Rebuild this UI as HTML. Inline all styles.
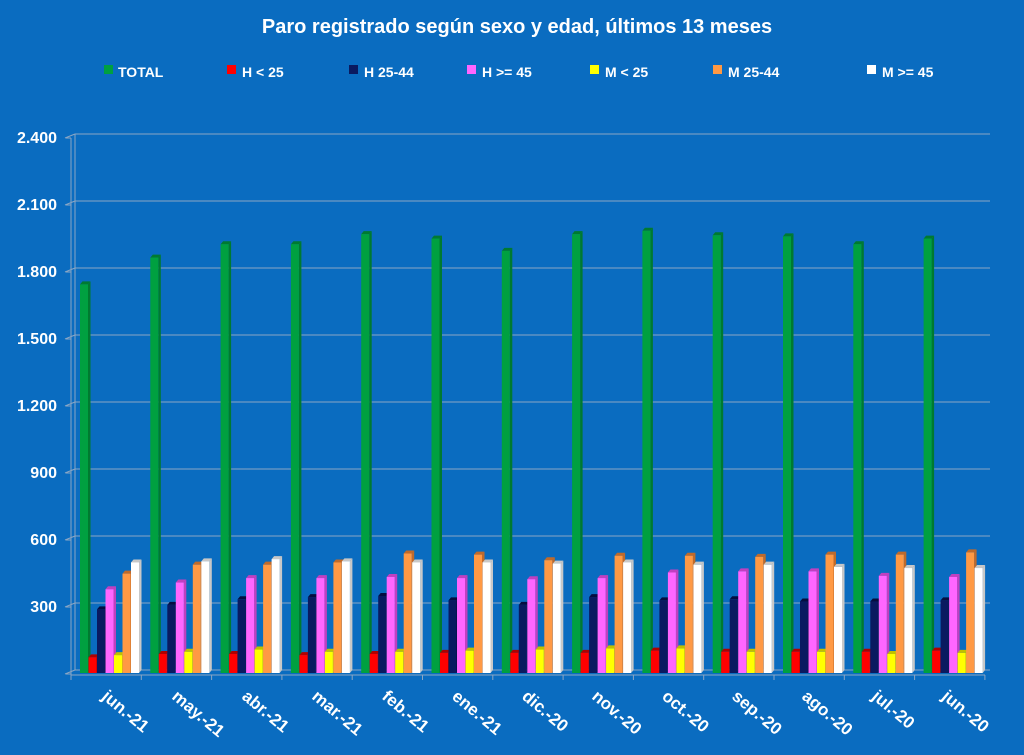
<!DOCTYPE html>
<html><head><meta charset="utf-8"><style>
body{margin:0;background:#0a6cc0;}
svg{display:block;font-family:"Liberation Sans",sans-serif;font-weight:bold;fill:#fff}
</style></head><body>
<svg id="c" width="1024" height="755" viewBox="0 0 1024 755">
<rect width="1024" height="755" fill="#0a6cc0"/>
<text x="517" y="33" text-anchor="middle" font-size="20">Paro registrado según sexo y edad, últimos 13 meses</text>
<g font-size="14">
<rect x="104" y="65" width="9" height="9" fill="#00a040"/><text x="118" y="77">TOTAL</text>
<rect x="227" y="65" width="9" height="9" fill="#ff0000"/><text x="242" y="77">H &lt; 25</text>
<rect x="349" y="65" width="9" height="9" fill="#0a1a60"/><text x="364" y="77">H 25-44</text>
<rect x="467" y="65" width="9" height="9" fill="#ff66ff"/><text x="482" y="77">H &gt;= 45</text>
<rect x="590" y="65" width="9" height="9" fill="#ffff00"/><text x="605" y="77">M &lt; 25</text>
<rect x="713" y="65" width="9" height="9" fill="#ff9944"/><text x="728" y="77">M 25-44</text>
<rect x="867" y="65" width="9" height="9" fill="#ffffff"/><text x="882" y="77">M &gt;= 45</text>
</g>
<g id="grid" stroke="#8aa6c4" stroke-width="1"></g>
<g font-size="16" text-anchor="end">
<text x="57" y="143">2.400</text><text x="57" y="210">2.100</text><text x="57" y="277">1.800</text>
<text x="57" y="344">1.500</text><text x="57" y="411">1.200</text><text x="57" y="478">900</text>
<text x="57" y="545">600</text><text x="57" y="612">300</text>
</g>
<g id="bars"></g>
<g font-size="17">
<text transform="translate(101,698) rotate(40)">jun.-21</text>
<text transform="translate(171,698) rotate(40)">may.-21</text>
<text transform="translate(241,698) rotate(40)">abr.-21</text>
<text transform="translate(311,698) rotate(40)">mar.-21</text>
<text transform="translate(381,698) rotate(40)">feb.-21</text>
<text transform="translate(451,698) rotate(40)">ene.-21</text>
<text transform="translate(521,698) rotate(40)">dic.-20</text>
<text transform="translate(591,698) rotate(40)">nov.-20</text>
<text transform="translate(661,698) rotate(40)">oct.-20</text>
<text transform="translate(731,698) rotate(40)">sep.-20</text>
<text transform="translate(801,698) rotate(40)">ago.-20</text>
<text transform="translate(871,698) rotate(40)">jul.-20</text>
<text transform="translate(941,698) rotate(40)">jun.-20</text>
</g>
</svg>
<script>
var ns="http://www.w3.org/2000/svg";
function el(p,t,a){var e=document.createElementNS(ns,t);for(var k in a)e.setAttribute(k,a[k]);p.appendChild(e);return e;}
var g=document.getElementById('grid');
for(var i=0;i<=8;i++){var y=137+i*67;el(g,'line',{x1:75,x2:990,y1:y-3,y2:y-3});el(g,'line',{x1:65,x2:75,y1:y+1,y2:y-3});el(g,'line',{x1:66,x2:71,y1:y+1,y2:y+1});}
el(g,'line',{x1:75,x2:75,y1:134,y2:670});el(g,'line',{x1:71,x2:71,y1:138,y2:675});
el(g,'line',{x1:71,x2:985,y1:675,y2:675});
for(var i=0;i<=13;i++){var x=71+i*70.3;el(g,'line',{x1:x,x2:x,y1:675,y2:680});}
var D=[[1740,1860,1920,1920,1965,1945,1890,1965,1980,1960,1955,1920,1945],
[70,85,85,80,85,90,90,90,100,95,95,95,100],
[285,305,330,340,345,325,305,340,325,330,320,320,325],
[375,405,425,425,430,425,420,425,450,455,455,435,430],
[80,95,105,95,95,100,105,110,110,95,95,85,90],
[445,485,485,495,535,530,505,525,525,520,530,530,540],
[495,500,510,500,495,495,490,495,485,485,475,470,470]];
var C=["#00a040","#ff0000","#0a1a60","#ff66ff","#ffff00","#ff9944","#ffffff"];
var S=["#007a30","#b00000","#050d40","#c040c0","#c0c000","#c06a2a","#c8c8c8"];
var b=document.getElementById('bars');
for(var m=0;m<13;m++){var x0=80+m*70.3;
for(var s=0;s<7;s++){var x=x0+s*8.5,h=D[s][m]*67/300,y=673-h,w=8;
el(b,'polygon',{points:(x+w)+","+y+" "+(x+w+2.5)+","+(y-3)+" "+(x+w+2.5)+","+670+" "+(x+w)+",673",fill:S[s]});
el(b,'polygon',{points:x+","+y+" "+(x+2.5)+","+(y-3)+" "+(x+w+2.5)+","+(y-3)+" "+(x+w)+","+y,fill:S[s]});
el(b,'rect',{x:x,y:y,width:w,height:h,fill:C[s]});}}
</script>
</body></html>
